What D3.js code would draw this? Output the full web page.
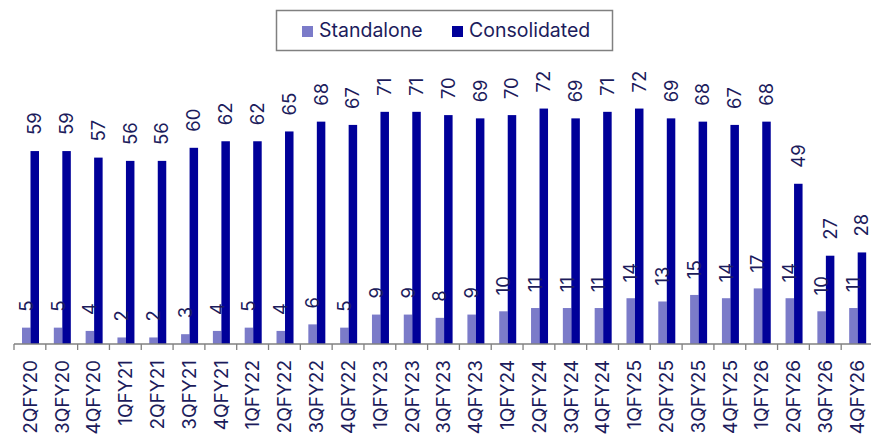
<!DOCTYPE html>
<html lang="en">
<head>
<meta charset="utf-8">
<script src="https://d3js.org/d3.v7.min.js"></script>
<style>
  body { margin: 0; background: #fff; }
  text { font-family: Inter, "Open Sans", sans-serif; fill: #1c1c5c; }
</style>
</head>
<body>
<script>
// quarters on the x axis
var quarters = ["2QFY20", "3QFY20", "4QFY20", "1QFY21", "2QFY21", "3QFY21", "4QFY21",
  "1QFY22", "2QFY22", "3QFY22", "4QFY22", "1QFY23", "2QFY23", "3QFY23", "4QFY23",
  "1QFY24", "2QFY24", "3QFY24", "4QFY24", "1QFY25", "2QFY25", "3QFY25", "4QFY25",
  "1QFY26", "2QFY26", "3QFY26", "4QFY26"];
var standalone = [5, 5, 4, 2, 2, 3, 4, 5, 4, 6, 5, 9, 9, 8, 9, 10, 11, 11, 11, 14, 13, 15, 14, 17, 14, 10, 11];
var consolidated = [59, 59, 57, 56, 56, 60, 62, 62, 65, 68, 67, 71, 71, 70, 69, 70, 72, 69, 71, 72, 69, 68, 67, 68, 49, 27, 28];
var seriesNames = ["Standalone", "Consolidated"];
var colors = ["#7b7bc9", "#000099"];

var width = 871, height = 439;
var baseY = 344;

var svg = d3.select("body").append("svg")
  .attr("width", width)
  .attr("height", height);

var x = d3.scaleBand()
  .domain(quarters)
  .range([14, 873]);

var sub = d3.scaleBand()
  .domain(seriesNames)
  .range([8, 25]);

var y = d3.scaleLinear()
  .domain([0, 80])
  .range([baseY, baseY - 3.27 * 80]);

var data = quarters.map(function(q, i) {
  return { q: q, vals: [standalone[i], consolidated[i]] };
});

var groups = svg.selectAll("g.grp")
  .data(data)
  .enter().append("g")
  .attr("class", "grp")
  .attr("transform", function(d) { return "translate(" + x(d.q) + ",0)"; });

groups.selectAll("rect")
  .data(function(d) { return d.vals.map(function(v, k) { return { s: seriesNames[k], v: v, k: k }; }); })
  .enter().append("rect")
  .attr("x", function(d) { return sub(d.s); })
  .attr("width", sub.bandwidth())
  .attr("y", function(d) { return y(d.v); })
  .attr("height", function(d) { return baseY - y(d.v); })
  .attr("fill", function(d) { return colors[d.k]; });

// value labels, rotated
groups.selectAll("text.val")
  .data(function(d) { return d.vals.map(function(v, k) { return { s: seriesNames[k], v: v }; }); })
  .enter().append("text")
  .attr("class", "val")
  .attr("transform", function(d) {
    return "translate(" + (sub(d.s) + sub.bandwidth() / 2) + "," + (y(d.v) - 16) + ") rotate(-90)";
  })
  .attr("dy", "0.35em")
  .style("font-size", "18.5px")
  .text(function(d) { return d.v; });

// axis
var axis = svg.append("g")
  .attr("transform", "translate(0," + baseY + ")");
axis.append("line")
  .attr("x1", 14).attr("x2", 873)
  .attr("stroke", "#808080").attr("stroke-width", 1.3);
axis.selectAll("line.tick")
  .data(quarters)
  .enter().append("line")
  .attr("class", "tick")
  .attr("x1", function(d) { return x(d); })
  .attr("x2", function(d) { return x(d); })
  .attr("y1", 0).attr("y2", 6)
  .attr("stroke", "#808080").attr("stroke-width", 1.3);
axis.selectAll("text")
  .data(quarters)
  .enter().append("text")
  .attr("transform", function(d) {
    return "translate(" + (x(d) + x.bandwidth() / 2) + ",16) rotate(-90)";
  })
  .attr("text-anchor", "end")
  .attr("dy", "0.36em")
  .style("font-size", "19px")
  .text(function(d) { return d; });

// legend
var legend = svg.append("g");
legend.append("rect")
  .attr("x", 276.5).attr("y", 10.5)
  .attr("width", 336).attr("height", 40)
  .attr("fill", "#fff")
  .attr("stroke", "#808080").attr("stroke-width", 1.5);
var legX = [302, 452];
seriesNames.forEach(function(n, k) {
  legend.append("rect")
    .attr("x", legX[k]).attr("y", 26)
    .attr("width", 11).attr("height", 11)
    .attr("fill", colors[k]);
  legend.append("text")
    .attr("x", legX[k] + 17).attr("y", 36.5)
    .style("font-size", "19.5px")
    .text(n);
});
</script>
</body>
</html>
